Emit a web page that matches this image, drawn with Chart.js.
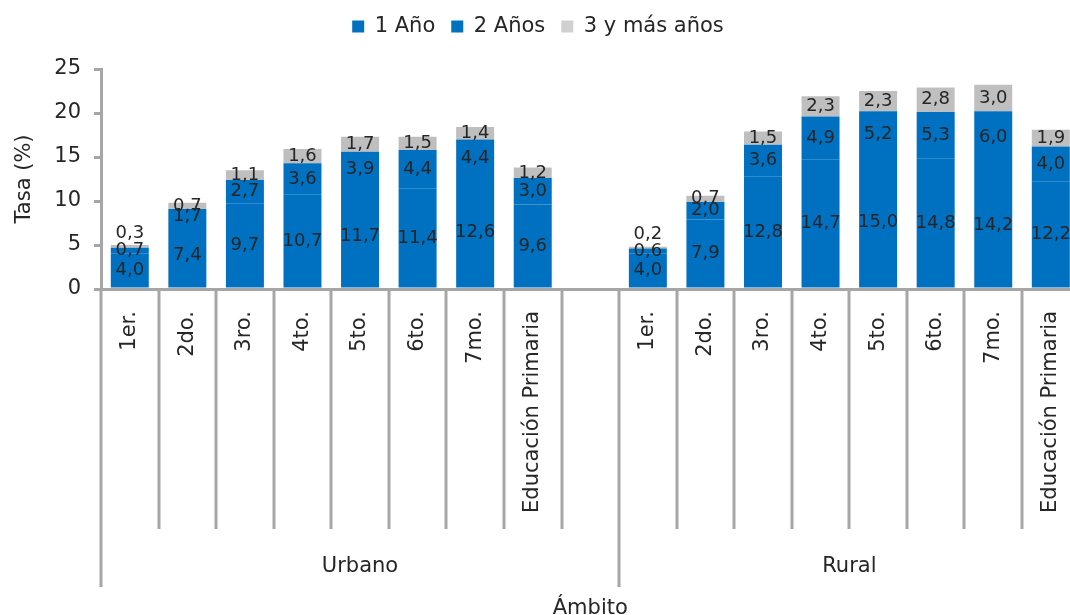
<!DOCTYPE html>
<html>
<head>
<meta charset="utf-8">
<script src="https://cdn.jsdelivr.net/npm/chart.js@4"></script>
<style>
  html, body { margin: 0; padding: 0; background: #fff; overflow: hidden; }
  #wrap { position: relative; width: 1090px; height: 615px; }
</style>
</head>
<body>
<div id="wrap"><canvas id="chart"></canvas></div>
<script>
// Categories (blank slot separates the two groups)
const grades = ['1er.', '2do.', '3ro.', '4to.', '5to.', '6to.', '7mo.', 'Educación Primaria'];
const categories = [...grades, '', ...grades];
const groupNames = ['Urbano', 'Rural'];
const groupSizes = [9, 8];

// Series values (Urbano, gap, Rural)
const unAnio = [4.0, 7.4, 9.7, 10.7, 11.7, 11.4, 12.6, 9.6, null, 4.0, 7.9, 12.8, 14.7, 15.0, 14.8, 14.2, 12.2];
const dosAnios = [0.7, 1.7, 2.7, 3.6, 3.9, 4.4, 4.4, 3.0, null, 0.6, 2.0, 3.6, 4.9, 5.2, 5.3, 6.0, 4.0];
const tresMas = [0.3, 0.7, 1.1, 1.6, 1.7, 1.5, 1.4, 1.2, null, 0.2, 0.7, 1.5, 2.3, 2.3, 2.8, 3.0, 1.9];

const yTicks = [0, 5, 10, 15, 20, 25];

const FONT = "'DejaVu Sans', sans-serif";
const TEXT = '#262626';
const AXIS = '#a6a6a6';
const VIEW_W = 1076; // visible width the legend is centred on
const fmt = v => v.toFixed(1).replace('.', ',');

// keep the plot top where the reference has it, legend centred on the view
const legendSpace = {
    id: 'legendSpace',
    beforeUpdate(chart) {
        const lg = chart.legend;
        if (!lg || lg._patched) return;
        const fit = lg.fit;
        lg.fit = function () { fit.call(this); this.height = 69; };
        lg._patched = true;
    },
    afterLayout(chart) {
        if (chart.legend) chart.legend.right = VIEW_W;
    }
};

// segment labels, centred in each piece of the stack
const segmentLabels = {
    id: 'segmentLabels',
    afterDatasetsDraw(chart) {
        const ctx = chart.ctx;
        ctx.save();
        ctx.font = '18px ' + FONT;
        ctx.fillStyle = TEXT;
        ctx.textAlign = 'center';
        ctx.textBaseline = 'middle';
        chart.data.datasets.forEach((ds, di) => {
            const meta = chart.getDatasetMeta(di);
            meta.data.forEach((bar, i) => {
                const v = ds.data[i];
                if (v == null) return;
                let y = (bar.y + bar.base) / 2;
                // very thin top pieces get their label above the bar
                if (di === 2 && v < 0.5) y = bar.y - 12;
                ctx.fillText(fmt(v), bar.x, y);
            });
        });
        ctx.restore();
    }
};

// category separators and group labels under the axis
const groupAxis = {
    id: 'groupAxis',
    afterDraw(chart) {
        const ctx = chart.ctx;
        const x = chart.scales.x;
        const top = chart.chartArea.bottom;
        const half = (x.getPixelForValue(1) - x.getPixelForValue(0)) / 2;
        const edges = [0];
        groupSizes.forEach(n => edges.push(edges[edges.length - 1] + n));
        ctx.save();
        ctx.strokeStyle = AXIS;
        ctx.lineWidth = 3;
        for (let i = 0; i <= categories.length; i++) {
            const px = Math.round(x.getPixelForValue(i) - half);
            const long = edges.includes(i);
            ctx.beginPath();
            ctx.moveTo(px, top);
            ctx.lineTo(px, long ? 587 : 529);
            ctx.stroke();
        }
        ctx.font = '21px ' + FONT;
        ctx.fillStyle = TEXT;
        ctx.textAlign = 'center';
        ctx.textBaseline = 'middle';
        groupNames.forEach((g, k) => {
            const a = x.getPixelForValue(edges[k]) - half;
            const b = x.getPixelForValue(edges[k + 1]) - half;
            ctx.fillText(g, (a + b) / 2, 567);
        });
        ctx.restore();
    }
};

new Chart(document.getElementById('chart'), {
    type: 'bar',
    data: {
        labels: categories,
        datasets: [
            { label: '1 Año', data: unAnio, backgroundColor: '#0070c0' },
            { label: '2 Años', data: dosAnios, backgroundColor: '#0070c0' },
            { label: '3 y más años', data: tresMas, backgroundColor: '#bfbfbf' }
        ]
    },
    options: {
        responsive: true,
        maintainAspectRatio: false,
        animation: false,
        layout: { padding: 0 },
        datasets: { bar: { barPercentage: 0.66, categoryPercentage: 1.0 } },
        plugins: {
            legend: {
                position: 'top',
                labels: {
                    boxWidth: 12, boxHeight: 12, padding: 16,
                    color: TEXT, font: { family: FONT, size: 21 },
                    generateLabels(chart) {
                        const cols = ['#0070c0', '#0070c0', '#d0d0d0'];
                        return chart.data.datasets.map((d, i) => ({
                            text: d.label, fillStyle: cols[i], strokeStyle: cols[i],
                            lineWidth: 0, datasetIndex: i, fontColor: TEXT
                        }));
                    }
                }
            },
            tooltip: { enabled: false }
        },
        scales: {
            x: {
                stacked: true,
                offset: true,
                grid: { display: false },
                border: { color: AXIS, width: 3 },
                ticks: {
                    autoSkip: false, minRotation: 90, maxRotation: 90, padding: 14,
                    color: TEXT, font: { family: FONT, size: 21 }
                },
                title: {
                    display: true, text: 'Ámbito', color: TEXT,
                    font: { family: FONT, size: 21 }, padding: { top: 0, bottom: -6 }
                },
                afterFit(s) { s.height = 326; }
            },
            y: {
                stacked: true,
                min: 0, max: 25,
                afterBuildTicks(s) { s.ticks = yTicks.map(v => ({ value: v })); },
                grid: { drawOnChartArea: false, drawTicks: true, tickLength: 7, color: AXIS, lineWidth: 3 },
                border: { color: AXIS, width: 3 },
                ticks: { padding: 13, color: TEXT, font: { family: FONT, size: 21 } },
                title: {
                    display: true, text: 'Tasa (%)', color: TEXT,
                    font: { family: FONT, size: 21 }, padding: { top: 12, bottom: 0 }
                },
                afterFit(s) { s.width = 101; }
            }
        }
    },
    plugins: [legendSpace, segmentLabels, groupAxis]
});
</script>
</body>
</html>
